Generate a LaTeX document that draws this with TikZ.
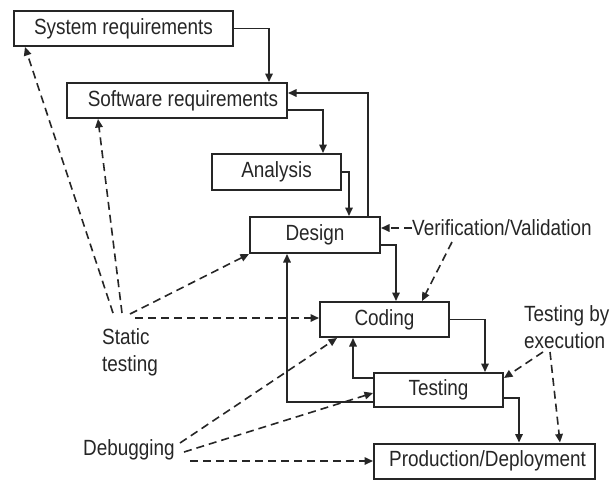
\documentclass[tikz,border=0pt]{standalone}
\usepackage{fontspec}
\setmainfont[FakeStretch=0.86]{Liberation Sans}
\usetikzlibrary{arrows.meta,calc}

\definecolor{ink}{HTML}{262626}

\begin{document}
\begin{tikzpicture}[x=1pt,y=-1pt,
  font=\fontsize{22}{27}\selectfont,
  every node/.style={text=ink},
  box/.style={draw=ink, line width=2pt, minimum height=35pt, inner sep=0pt, fill=white},
  flow/.style={draw=ink, line width=1.6pt, -{Triangle[length=8.5pt,width=7.5pt]}},
  hint/.style={draw=ink, line width=1.6pt, dash pattern=on 8pt off 5pt, -{Triangle[length=8.5pt,width=7.5pt]}},
  lbl/.style={inner sep=0pt}
]
\fill[white] (0,0) rectangle (610,480);
\useasboundingbox (0,0) rectangle (610,480);

% life-cycle stages
\node[box, minimum width=219pt] (sys) at (123.5,28.5) {System requirements};
\node[box, minimum width=220pt] (sw) at (177,100.5) {\hspace*{12pt}Software requirements};
\node[box, minimum width=129pt, minimum height=36pt] (ana) at (276.5,172) {Analysis};
\node[box, minimum width=130pt, minimum height=36pt] (des) at (315,235) {Design};
\node[box, minimum width=129pt] (cod) at (384.5,319.5) {Coding};
\node[box, minimum width=129pt, minimum height=34pt] (tst) at (438.5,390) {Testing};
\node[box, minimum width=221pt] (prod) at (484.5,461) {\hspace*{6pt}Production/Deployment};

% activity labels
\node[lbl, anchor=west] (vv) at (412,228) {Verification/Validation};
\node[lbl, anchor=west, align=left] (st) at (102,352) {Static\\testing};
\node[lbl, anchor=west] (dbg) at (83,450) {Debugging};
\node[lbl, anchor=west, align=left] (tbe) at (524,327) {Testing by\\execution};

% free ends of the activity connectors
\coordinate (vvA) at (452,242);
\coordinate (stA) at (113,313);
\coordinate (stB) at (122,313);
\coordinate (stC) at (130,314);
\coordinate (stD) at (135,318);
\coordinate (dbA) at (180,443);
\coordinate (dbB) at (184,452);
\coordinate (dbC) at (190,461);
\coordinate (tbA) at (543,352);
\coordinate (tbB) at (550,352);

% stage flow
\draw[flow] (sys.east) -| (sw.north -| 269,0);
\draw[flow] (des.north -| 368,0) |- (sw.east |- 0,93);
\draw[flow] (sw.east |- 0,110) -| (ana.north -| 323,0);
\draw[flow] (ana.east) -| (des.north -| 349,0);
\draw[flow] (des.east |- 0,245) -| (cod.north -| 396,0);
\draw[flow] (cod.east) -| (tst.north -| 485,0);
\draw[flow] (tst.west |- 0,378) -| (cod.south -| 353,0);
\draw[flow] (tst.east |- 0,398) -| (prod.north -| 519,0);
\draw[flow] (tst.west |- 0,402) -| (des.south -| 287,0);

% verification / validation
\draw[hint] (vv.west) -- (des.east |- vv.west);
\draw[hint] (vvA) -- (cod.north -| 422,0);

% static testing
\draw[hint] (stA) -- (sys.south -| 25,0);
\draw[hint] (stB) -- (sw.south -| 98,0);
\draw[hint] (stC) -- (des.south west);
\draw[hint] (stD) -- (cod.west |- stD);

% debugging
\draw[hint] (dbA) -- (cod.south -| 337,0);
\draw[hint] (dbB) -- (tst.west |- 0,393);
\draw[hint] (dbC) -- (prod.west |- dbC);

% testing by execution
\draw[hint] (tbA) -- (tst.east |- 0,378);
\draw[hint] (tbB) -- (prod.north -| 560,0);
\end{tikzpicture}
\end{document}
